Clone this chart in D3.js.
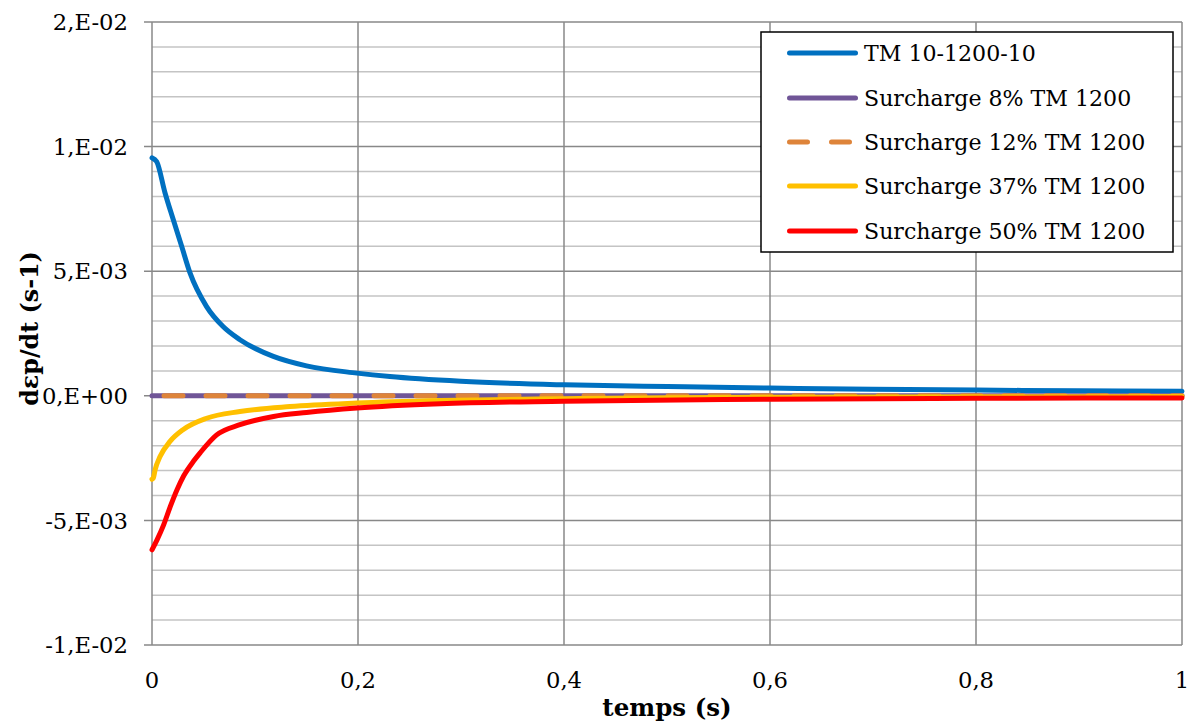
<!DOCTYPE html>
<html><head><meta charset="utf-8">
<script src="https://cdn.jsdelivr.net/npm/d3@7"></script>
<style>body{margin:0;background:#fff;} svg{display:block;}</style>
</head><body>
<svg id="chart" width="1189" height="726"></svg>
<script>
// ---- data ----
const xTicks = [0, 0.2, 0.4, 0.6, 0.8, 1];
const xTickLabels = ["0", "0,2", "0,4", "0,6", "0,8", "1"];
const yTicks = [0.015, 0.01, 0.005, 0, -0.005, -0.01];
const yTickLabels = ["2,E-02", "1,E-02", "5,E-03", "0,E+00", "-5,E-03", "-1,E-02"];
const yMinor = [0.014,0.013,0.012,0.011,0.009,0.008,0.007,0.006,0.004,0.003,0.002,0.001,-0.001,-0.002,-0.003,-0.004,-0.006,-0.007,-0.008,-0.009];

const seriesNames = ["TM 10-1200-10", "Surcharge 8% TM 1200", "Surcharge 12% TM 1200", "Surcharge 37% TM 1200", "Surcharge 50% TM 1200"];
const seriesColors = ["#0070C0", "#705597", "#DE843A", "#FFC000", "#FF0000"];

const tBlue = [0, 0.0045, 0.0126, 0.0207, 0.0288, 0.0369, 0.053, 0.069, 0.0854, 0.1178, 0.150, 0.199, 0.231, 0.3, 0.4, 0.5, 0.6, 0.7, 0.8, 0.9, 1.0];
const vBlue = [0.00955, 0.0094, 0.00815, 0.00706, 0.0060, 0.00493, 0.00358, 0.00278, 0.00225, 0.00158, 0.00120, 0.00091, 0.00077, 0.00058, 0.00044, 0.00037, 0.00031, 0.00026, 0.00023, 0.00020, 0.00018];

const tPurple = [0, 1];
const vPurple = [0, 0];
const tOrange = [0, 1];
const vOrange = [0, 0];

const tYellow = [0, 0.0013, 0.003, 0.0078, 0.0175, 0.0301, 0.053, 0.0854, 0.134, 0.199, 0.280, 0.4, 0.5, 0.6, 0.8, 1.0];
const vYellow = [-0.00335, -0.0033, -0.00297, -0.00244, -0.00183, -0.00136, -0.00090, -0.00063, -0.00043, -0.00029, -0.00019, -0.00012, -0.00008, -0.00006, -0.00004, -0.00003];

const tRed = [0, 0.0049, 0.0113, 0.0178, 0.0243, 0.0307, 0.0404, 0.0469, 0.0628, 0.0854, 0.118, 0.150, 0.199, 0.280, 0.4, 0.6, 0.8, 1.0];
const vRed = [-0.00618, -0.00578, -0.00518, -0.00444, -0.00377, -0.00322, -0.00262, -0.00228, -0.00157, -0.00116, -0.00083, -0.00067, -0.00049, -0.00032, -0.00022, -0.00014, -0.0001, -0.00009];

const seriesT = [tBlue, tPurple, tOrange, tYellow, tRed];
const seriesV = [vBlue, vPurple, vOrange, vYellow, vRed];

// ---- layout ----
const L = 152, T = 22, W = 1030, H = 623;
const svg = d3.select("#chart");
const x = d3.scaleLinear().domain([0, 1]).range([L, L + W]);
const y = d3.scaleLinear().domain([-0.01, 0.015]).range([T + H, T]);
const font = "'DejaVu Serif', serif";

// minor gridlines
svg.append("g").selectAll("line").data(yMinor).join("line")
  .attr("x1", L).attr("x2", L + W)
  .attr("y1", d => y(d)).attr("y2", d => y(d))
  .attr("stroke", "#c4c4c4").attr("stroke-width", 1.5);

// major horizontal gridlines with outside ticks
svg.append("g").selectAll("line").data(yTicks).join("line")
  .attr("x1", L - 8).attr("x2", L + W)
  .attr("y1", d => y(d)).attr("y2", d => y(d))
  .attr("stroke", "#888").attr("stroke-width", 1.5);

// vertical gridlines
svg.append("g").selectAll("line").data(xTicks).join("line")
  .attr("x1", d => x(d)).attr("x2", d => x(d))
  .attr("y1", T).attr("y2", T + H)
  .attr("stroke", "#888").attr("stroke-width", 1.5);

// y tick labels
svg.append("g").selectAll("text").data(yTicks).join("text")
  .attr("x", 128).attr("y", d => y(d))
  .attr("dy", "0.36em")
  .attr("text-anchor", "end")
  .attr("font-family", font).attr("font-size", 22.7).attr("fill", "#000")
  .text((d, i) => yTickLabels[i]);

// x tick labels
svg.append("g").selectAll("text").data(xTicks).join("text")
  .attr("x", d => x(d)).attr("y", 688)
  .attr("text-anchor", "middle")
  .attr("font-family", font).attr("font-size", 22.7).attr("fill", "#000")
  .text((d, i) => xTickLabels[i]);

// axis titles
svg.append("text").attr("x", x(0.5)).attr("y", 716)
  .attr("text-anchor", "middle").attr("font-family", font)
  .attr("font-weight", "bold").attr("font-size", 24.5).text("temps (s)");
svg.append("text").attr("transform", `translate(38,${y(0.0027)}) rotate(-90)`)
  .attr("text-anchor", "middle").attr("font-family", font)
  .attr("font-weight", "bold").attr("font-size", 23.8).text("dεp/dt (s-1)");

// lines
const line = d3.line().x(d => x(d[0])).y(d => y(d[1])).curve(d3.curveMonotoneX);
seriesNames.forEach((name, i) => {
  const pts = seriesT[i].map((t, j) => [t, seriesV[i][j]]);
  const p = svg.append("path").datum(pts)
    .attr("d", line).attr("fill", "none")
    .attr("stroke", seriesColors[i]).attr("stroke-width", 5)
    .attr("stroke-linejoin", "round").attr("stroke-linecap", "round");
  if (i === 2) p.attr("stroke-dasharray", "19,23").attr("stroke-dashoffset", 30);
});

// legend
const lg = svg.append("g");
lg.append("rect").attr("x", 761).attr("y", 32).attr("width", 412).attr("height", 220)
  .attr("fill", "#fff").attr("stroke", "#000").attr("stroke-width", 1.5);
const itemY = [53, 98, 142, 186, 231];
seriesNames.forEach((name, i) => {
  const l = lg.append("line").attr("y1", itemY[i]).attr("y2", itemY[i])
    .attr("stroke", seriesColors[i]).attr("stroke-width", 5).attr("stroke-linecap", "round");
  if (i === 2) l.attr("x1", 789.5).attr("x2", 849.5).attr("stroke-dasharray", "18,24");
  else l.attr("x1", 789.5).attr("x2", 855.5);
  lg.append("text").attr("x", 864).attr("y", itemY[i]).attr("dy", "0.36em")
    .attr("font-family", font).attr("font-size", 22.1).attr("fill", "#000").text(name);
});
</script>
</body></html>
